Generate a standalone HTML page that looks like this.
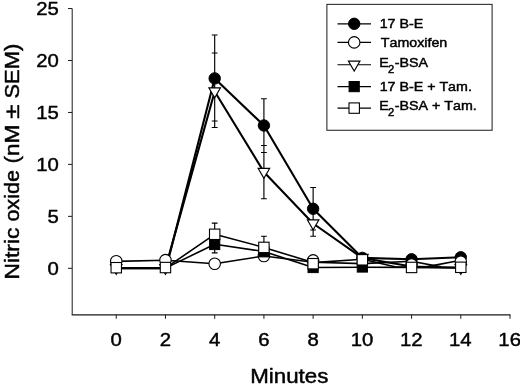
<!DOCTYPE html><html><head><meta charset="utf-8"><title>Nitric oxide chart</title>
<style>html,body{margin:0;padding:0;background:#fff}svg{display:block}text{font-family:"Liberation Sans",Arial,sans-serif;fill:#000;stroke:#000;stroke-width:0.45;font-kerning:none}</style></head><body>
<svg width="520" height="386" viewBox="0 0 520 386">
<rect width="520" height="386" fill="#fff"/>
<g stroke="#1a1a1a" stroke-width="1" fill="none">
<path d="M72.2 8.6V314.75"/><path stroke-width="1.25" d="M71.7 314.75H510.4"/>
<path d="M68 268.30H72.2"/>
<path d="M68 216.35H72.2"/>
<path d="M68 164.40H72.2"/>
<path d="M68 112.45H72.2"/>
<path d="M68 60.50H72.2"/>
<path d="M68 8.55H72.2"/>
<path d="M116.25 314.75V318.8"/>
<path d="M165.47 314.75V318.8"/>
<path d="M214.69 314.75V318.8"/>
<path d="M263.91 314.75V318.8"/>
<path d="M313.13 314.75V318.8"/>
<path d="M362.35 314.75V318.8"/>
<path d="M411.57 314.75V318.8"/>
<path d="M460.79 314.75V318.8"/>
<path d="M510.01 314.75V318.8"/>
</g>
<text transform="translate(47.45 275.00) scale(1.0600 1)" font-size="19.2">0</text>
<text transform="translate(47.51 223.05) scale(1.0600 1)" font-size="19.2">5</text>
<text transform="translate(36.13 171.10) scale(1.0600 1)" font-size="19.2">10</text>
<text transform="translate(36.19 119.15) scale(1.0600 1)" font-size="19.2">15</text>
<text transform="translate(36.13 67.20) scale(1.0600 1)" font-size="19.2">20</text>
<text transform="translate(36.19 15.25) scale(1.0600 1)" font-size="19.2">25</text>
<text transform="translate(110.59 346.30) scale(1.0600 1)" font-size="19.2">0</text>
<text transform="translate(159.81 346.30) scale(1.0600 1)" font-size="19.2">2</text>
<text transform="translate(209.10 346.30) scale(1.0600 1)" font-size="19.2">4</text>
<text transform="translate(258.18 346.30) scale(1.0600 1)" font-size="19.2">6</text>
<text transform="translate(307.47 346.30) scale(1.0600 1)" font-size="19.2">8</text>
<text transform="translate(350.65 346.30) scale(1.0600 1)" font-size="19.2">10</text>
<text transform="translate(399.99 346.30) scale(1.0600 1)" font-size="19.2">12</text>
<text transform="translate(448.99 346.30) scale(1.0600 1)" font-size="19.2">14</text>
<text transform="translate(498.36 346.30) scale(1.0600 1)" font-size="19.2">16</text>
<text transform="translate(250.17 383.30) scale(1.1173 1)" font-size="20" stroke-width="0.2">Minutes</text>
<text transform="translate(18.6 279.46) rotate(-90) scale(1.1597 1)" font-size="19.6" stroke-width="0.2">Nitric</text>
<text transform="translate(18.6 221.60) rotate(-90) scale(1.0983 1)" font-size="19.6" stroke-width="0.2">oxide</text>
<text transform="translate(18.6 163.39) rotate(-90) scale(1.1477 1)" font-size="19.6" stroke-width="0.2">(nM</text>
<text transform="translate(18.6 118.72) rotate(-90) scale(1.3232 1)" font-size="19.6" stroke-width="0.2">±</text>
<text transform="translate(18.6 98.49) rotate(-90) scale(1.1174 1)" font-size="19.6" stroke-width="0.2">SEM)</text>
<g stroke="#000" fill="none" stroke-linejoin="round">
<path stroke-width="2.1" d="M116.25 268.1 L165.47 268.1"/>
<path stroke-width="2.1" d="M165.47 270.5 L214.69 78.4 L263.91 125.5 L313.13 208.75 L362.35 257.9 L411.57 259.3 L460.79 257.3"/>
<path stroke-width="1.6" d="M116.25 261.4 L165.47 260.3 L214.69 263.75 L263.91 256 L313.13 262.3 L362.35 263.6 L411.57 261.3 L441.00 266.9"/>
<path stroke-width="1.6" d="M426.00 266.9 L460.79 260.3"/>
<path stroke-width="2.1" d="M116.25 268.1 L165.47 268.1 L214.69 91.5 L263.91 172 L313.13 223.5 L362.35 258 L411.57 266.5 L460.79 268"/>
<path stroke-width="1.6" d="M116.25 268.1 L165.47 268.1 L214.69 244.3 L263.91 251.5 L313.13 267.5 L362.35 267.2 L411.57 267.4 L460.79 267.5"/>
<path stroke-width="1.6" d="M116.25 268.1 L165.47 268.1 L214.69 234.3 L263.91 247.4 L313.13 262.6 L362.35 259.3 L395.00 266.7 L411.57 267.4 L460.79 267.5"/>
<path stroke-width="1.15" d="M214.69 35V121M211.79 35h5.8M211.79 121h5.8M263.91 98.75V152.5M261.01 98.75h5.8M261.01 152.5h5.8M313.13 187.5V230M310.23 187.5h5.8M310.23 230h5.8M214.69 53V127.5M211.79 53h5.8M211.79 127.5h5.8M263.91 145.5V198.75M261.01 145.5h5.8M261.01 198.75h5.8M313.13 211V236.25M310.23 211h5.8M310.23 236.25h5.8M214.69 236V252.8M211.79 236h5.8M211.79 252.8h5.8M214.69 223.1V245M211.79 223.1h5.8M211.79 245h5.8M263.91 236.25V255M261.01 236.25h5.8M261.01 255h5.8"/>
</g>
<g stroke="#000" fill="none">
<circle cx="214.69" cy="78.4" r="5.7" fill="#000" stroke-width="1"/>
<circle cx="263.91" cy="125.5" r="5.7" fill="#000" stroke-width="1"/>
<circle cx="313.13" cy="208.75" r="5.7" fill="#000" stroke-width="1"/>
<circle cx="362.35" cy="257.9" r="5.7" fill="#000" stroke-width="1"/>
<circle cx="411.57" cy="259.3" r="5.7" fill="#000" stroke-width="1"/>
<circle cx="460.79" cy="257.3" r="5.7" fill="#000" stroke-width="1"/>
<circle cx="116.25" cy="261.2" r="5.75" fill="#fff" stroke-width="1.1"/>
<circle cx="165.47" cy="260.1" r="5.75" fill="#fff" stroke-width="1.1"/>
<circle cx="214.69" cy="263.75" r="5.75" fill="#fff" stroke-width="1.1"/>
<circle cx="263.91" cy="256" r="5.75" fill="#fff" stroke-width="1.1"/>
<circle cx="313.13" cy="260.4" r="5.75" fill="#fff" stroke-width="1.1"/>
<circle cx="411.57" cy="264.4" r="5.75" fill="#fff" stroke-width="1.1"/>
<circle cx="460.79" cy="261.6" r="5.75" fill="#fff" stroke-width="1.1"/>
<path d="M110.45 264.59999999999997H122.05L116.25 274.5Z" fill="#fff" stroke-width="1.1"/>
<path d="M159.67 264.59999999999997H171.27L165.47 274.5Z" fill="#fff" stroke-width="1.1"/>
<path d="M208.89 87.9H220.49L214.69 97.8Z" fill="#fff" stroke-width="1.1"/>
<path d="M258.11 168.4H269.71L263.91 178.3Z" fill="#fff" stroke-width="1.1"/>
<path d="M307.33 219.9H318.93L313.13 229.8Z" fill="#fff" stroke-width="1.1"/>
<path d="M356.55 254.4H368.15L362.35 264.3Z" fill="#fff" stroke-width="1.1"/>
<path d="M454.99 264.59999999999997H466.59L460.79 274.5Z" fill="#fff" stroke-width="1.1"/>
<rect x="209.59" y="239.4" width="10.2" height="10.2" fill="#000" stroke-width="1"/>
<rect x="258.81" y="246.70000000000002" width="10.2" height="10.2" fill="#000" stroke-width="1"/>
<rect x="308.03" y="262.4" width="10.2" height="10.2" fill="#000" stroke-width="1"/>
<rect x="357.25" y="261.9" width="10.2" height="10.2" fill="#000" stroke-width="1"/>
<rect x="111.05" y="262.5" width="10.4" height="10.4" fill="#fff" stroke-width="1.1"/>
<rect x="160.27" y="262.35" width="10.4" height="10.4" fill="#fff" stroke-width="1.1"/>
<rect x="209.49" y="229.10000000000002" width="10.4" height="10.4" fill="#fff" stroke-width="1.1"/>
<rect x="258.71" y="242.20000000000002" width="10.4" height="10.4" fill="#fff" stroke-width="1.1"/>
<rect x="307.93" y="258.5" width="10.4" height="10.4" fill="#fff" stroke-width="1.1"/>
<rect x="357.15" y="254.60000000000002" width="10.4" height="10.4" fill="#fff" stroke-width="1.1"/>
<rect x="406.37" y="262.25" width="10.4" height="10.4" fill="#fff" stroke-width="1.1"/>
<rect x="455.59" y="262.1" width="10.4" height="10.4" fill="#fff" stroke-width="1.1"/>
</g>
<rect x="326.9" y="4.35" width="165.2" height="125.9" fill="#fff" stroke="#1a1a1a" stroke-width="1"/>
<g stroke="#000" fill="none">
<path stroke-width="1.2" d="M337.5 23.8H371"/>
<circle cx="354.20" cy="23.8" r="5.7" fill="#000" stroke-width="1"/>
</g>
<text transform="translate(379.66 28.0) scale(1.08 1)" font-size="13.2" stroke-width="0.3">17 B-E</text>
<g stroke="#000" fill="none">
<path stroke-width="1.2" d="M337.5 42.4H371"/>
<circle cx="354.20" cy="42.4" r="5.75" fill="#fff" stroke-width="1.1"/>
</g>
<text transform="translate(380.83 47.0) scale(1.08 1)" font-size="13.2" stroke-width="0.3">Tamoxifen</text>
<g stroke="#000" fill="none">
<path stroke-width="1.2" d="M337.5 64.75H371"/>
<path d="M348.40 61.15H360.00L354.20 71.05Z" fill="#fff" stroke-width="1.1"/>
</g>
<text transform="translate(379.23 66.9) scale(1.08 1)" font-size="13.2" stroke-width="0.3">E<tspan font-size="10.4" dy="6" dx="-0.7">2</tspan><tspan dy="-6" dx="0.6">-BSA</tspan></text>
<g stroke="#000" fill="none">
<path stroke-width="1.2" d="M337.5 86.6H371"/>
<rect x="349.10" y="81.5" width="10.2" height="10.2" fill="#000" stroke-width="1"/>
</g>
<text transform="translate(379.66 91.0) scale(1.08 1)" font-size="13.2" stroke-width="0.3">17 B-E + Tam.</text>
<g stroke="#000" fill="none">
<path stroke-width="1.2" d="M337.5 108.1H371"/>
<rect x="349.00" y="102.89999999999999" width="10.4" height="10.4" fill="#fff" stroke-width="1.1"/>
</g>
<text transform="translate(379.23 110.25) scale(1.08 1)" font-size="13.2" stroke-width="0.3">E<tspan font-size="10.4" dy="6" dx="-0.7">2</tspan><tspan dy="-6" dx="0.6">-BSA + Tam.</tspan></text>
</svg></body></html>
